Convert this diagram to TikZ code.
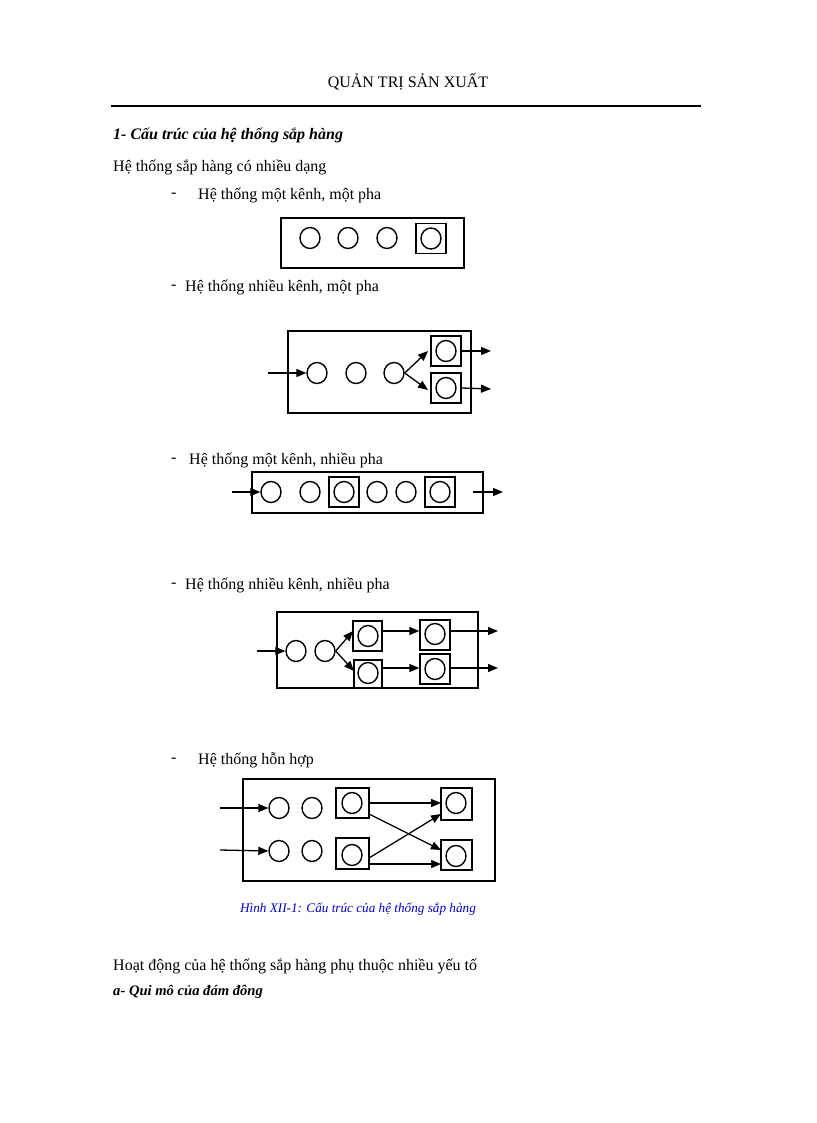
\documentclass[tikz,border=0pt]{standalone}
\usepackage{fontspec}
\setmainfont{Liberation Serif}
\usetikzlibrary{arrows.meta,shapes.geometric}
\begin{document}
\begin{tikzpicture}[x=1pt,y=-1pt,
 txt/.style={anchor=west,inner sep=0,font=\fontsize{16}{19}\selectfont},
 ci/.style={draw,line width=1.4pt,ellipse,minimum width=20pt,minimum height=21pt,inner sep=0},
 sq/.style={draw,line width=1.3pt,minimum width=30pt,minimum height=30pt,inner sep=0},
 fr/.style={draw,line width=1.3pt},
 ar/.style={line width=1.3pt,-{Triangle[length=10pt,width=8pt]}},
 ]
\useasboundingbox (0,0) rectangle (816,1123);
\node[inner sep=0,font=\fontsize{16}{19}\selectfont] (hdr) at (408,82) {QUẢN TRỊ SẢN XUẤT};
\draw[line width=1.2pt] (111,106) -- (701,106);
\node[txt,font=\fontsize{16}{19}\selectfont\bfseries\itshape] (t1) at (113,135) {1- Cấu trúc của hệ thống sắp hàng};
\node[txt] (t2) at (113,167) {Hệ thống sắp hàng có nhiều dạng};
\node[txt] (d1) at (171,195) {-};\node[txt] (l1) at (198,195) {Hệ thống một kênh, một pha};
\node[txt] (d2) at (171,287) {-};\node[txt] (l2) at (185,287) {Hệ thống nhiều kênh, một pha};
\node[txt] (d3) at (171,460) {-};\node[txt] (l3) at (189,460) {Hệ thống một kênh, nhiều pha};
\node[txt] (d4) at (171,585) {-};\node[txt] (l4) at (185,585) {Hệ thống nhiều kênh, nhiều pha};
\node[txt] (d5) at (171,760) {-};\node[txt] (l5) at (198,760) {Hệ thống hỗn hợp};
% diagram 1
\draw[fr] (281,218) rectangle (464,268);
\node[ci] (a1) at (310,238) {};\node[ci] (a2) at (348,238) {};\node[ci] (a3) at (387,238) {};
\node[sq] (as) at (431,238.5) {};\node[ci] (a4) at (431,238.5) {};
% diagram 2
\draw[fr] (288,331) rectangle (471,413);
\coordinate (bin) at (268,373);
\node[ci] (b1) at (317,373) {};\node[ci] (b2) at (356,373) {};\node[ci] (b3) at (394,373) {};
\node[sq] (bs1) at (446,351) {};\node[ci] (bc1) at (446,351) {};
\node[sq] (bs2) at (446,388) {};\node[ci] (bc2) at (446,388) {};
\coordinate (bo1) at (491,351);\coordinate (bo2) at (491,389);
\draw[ar] (bin) -- (b1.west);
\draw[ar] (b3.east) -- (428,351);
\draw[ar] (b3.east) -- (428,390);
\draw[ar] (bs1.east) -- (bo1);\draw[ar] (bs2.east) -- (bo2);
% diagram 3
\draw[fr] (252,472) rectangle (483,513);
\coordinate (cin) at (232,492);
\node[ci] (c1) at (271,492) {};\node[ci] (c2) at (310,492) {};
\node[sq] (cs1) at (344,492) {};\node[ci] (cc1) at (344,492) {};
\node[ci] (c3) at (377,492) {};\node[ci] (c4) at (406,492) {};
\node[sq] (cs2) at (440,492) {};\node[ci] (cc2) at (440,492) {};
\coordinate (ca) at (473,492);\coordinate (cb) at (503,492);
\draw[ar] (cin) -- (c1.west);\draw[ar] (ca) -- (cb);
% diagram 4
\draw[fr] (277,612) rectangle (478,688);
\coordinate (din) at (257,651);
\node[ci] (e1) at (296,651) {};\node[ci] (e2) at (325,651) {};
\node[sq,minimum width=29pt] (es1) at (367.5,636) {};\node[ci] (ec1) at (368,636) {};
\node[sq,minimum width=28pt,minimum height=28pt] (es2) at (368,674) {};\node[ci] (ec2) at (368,673) {};
\node[sq] (es3) at (435,635) {};\node[ci] (ec3) at (435,634) {};
\node[sq] (es4) at (435,669) {};\node[ci] (ec4) at (435,669) {};
\coordinate (eo1) at (498,631);\coordinate (eo2) at (498,668);
\draw[ar] (din) -- (e1.west);
\draw[ar] (e2.east) -- (353,631);\draw[ar] (e2.east) -- (354,671);
\draw[ar] (382,631) -- (es3.west|-0,631);\draw[ar] (382,668) -- (es4.west|-0,668);
\draw[ar] (es3.east|-0,631) -- (eo1);\draw[ar] (es4.east|-0,668) -- (eo2);
% diagram 5
\draw[fr] (243,779) rectangle (495,881);
\coordinate (fin1) at (220,808);\coordinate (fin2) at (220,850);
\node[ci] (f1) at (279,808) {};\node[ci] (f2) at (312,808) {};
\node[ci] (f3) at (279,851) {};\node[ci] (f4) at (312,851) {};
\node[sq,minimum width=33pt] (fs1) at (352.5,803) {};\node[ci] (fc1) at (352,803) {};
\node[sq,minimum width=33pt,minimum height=31pt] (fs2) at (352.5,853.5) {};\node[ci] (fc2) at (352,855) {};
\node[sq,minimum width=31pt,minimum height=32pt] (fs3) at (456.5,804) {};\node[ci] (fc3) at (456,803) {};
\node[sq,minimum width=31pt] (fs4) at (456.5,855) {};\node[ci] (fc4) at (456,856) {};
\draw[ar] (fin1) -- (f1.west);\draw[ar] (fin2) -- (f3.west);
\draw[ar] (369,803) -- (441,803);
\draw[ar] (369,814) -- (441,850);
\draw[ar] (369,858) -- (441,814);
\draw[ar] (369,864) -- (441,864);
\node[inner sep=0,text=blue!80!black,font=\fontsize{13.2}{15}\selectfont\itshape] (cap) at (358,909) {Hình XII-1: Cấu trúc của hệ thống sắp hàng};
\node[txt] (t3) at (113,966) {Hoạt động của hệ thống sắp hàng phụ thuộc nhiều yếu tố};
\node[txt,font=\fontsize{14.6}{17}\selectfont\bfseries\itshape] (t4) at (113,992) {a- Qui mô của đám đông};
\end{tikzpicture}
\end{document}
